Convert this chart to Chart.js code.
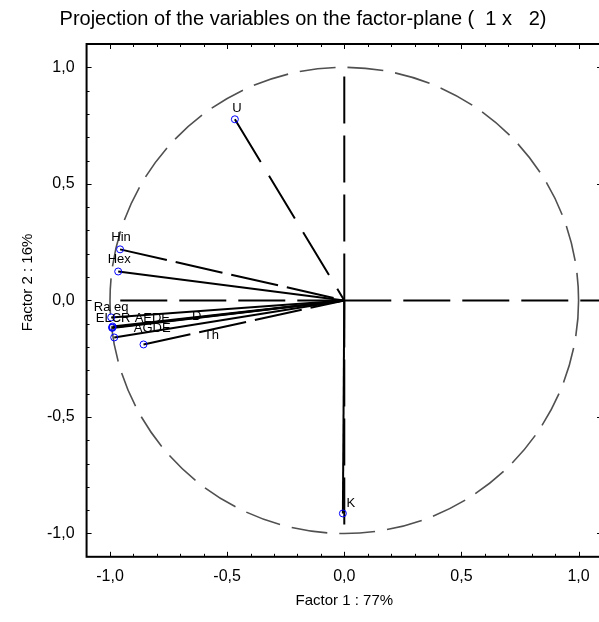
<!DOCTYPE html>
<html>
<head>
<meta charset="utf-8">
<script src="https://cdn.jsdelivr.net/npm/chart.js@4/dist/chart.umd.min.js"></script>
<style>
  html, body { margin: 0; padding: 0; background: #fff; overflow: hidden; }
  canvas { display: block; }
</style>
</head>
<body>
<canvas id="pcaChart" width="607" height="622"></canvas>
<script>
// Variables y coordenadas en el plano factorial
const varNames = ["U", "Hin", "Hex", "Ra eq", "ELCR", "AEDE", "D", "AGDE", "Th", "K"];
const factor1 = [-0.467, -0.957, -0.965, -0.995, -0.991, -0.990, -0.989, -0.982, -0.857, -0.006];
const factor2 = [0.777, 0.219, 0.124, -0.073, -0.116, -0.118, -0.112, -0.159, -0.189, -0.914];

// Ticks
const xTickValues = [-1, -0.5, 0, 0.5, 1];
const yTickValues = [-1, -0.5, 0, 0.5, 1];

const FONT = "'Liberation Sans', Arial, sans-serif";
const Y_TITLE = "Factor 2 : 16%";

// Trazo de cada vector (vacío = continuo)
const vectorDash = { "U": [50, 16], "Hin": [48, 9], "Th": [48, 9] };

// Desplazamiento de las etiquetas respecto al punto (px)
const labelOffset = {
  "U": [2, -11], "Hin": [1, -12], "Hex": [1, -12], "Ra eq": [0, -10],
  "ELCR": [1, -9], "AEDE": [40, -9], "D": [84, -10], "AGDE": [38, -9],
  "Th": [68, -9], "K": [8, -10]
};

function fmt(v) {
  return v.toFixed(1).replace(".", ",");
}

const points = varNames.map((n, i) => ({ x: factor1[i], y: factor2[i] }));

const datasets = [
  {
    type: "scatter",
    data: points,
    pointRadius: 3.5,
    pointBorderColor: "#0000ff",
    pointBackgroundColor: "rgba(0,0,0,0)",
    pointBorderWidth: 1
  }
];

varNames.forEach((n, i) => {
  datasets.push({
    type: "line",
    data: [{ x: factor1[i], y: factor2[i] }, { x: 0, y: 0 }],
    borderColor: "#000",
    borderWidth: 2,
    borderDash: vectorDash[n] || [],
    pointRadius: 0,
    fill: false
  });
});

const decorPlugin = {
  id: "decor",
  beforeDatasetsDraw(chart) {
    const { ctx } = chart;
    const xs = chart.scales.x, ys = chart.scales.y;
    const cx = xs.getPixelForValue(0), cy = ys.getPixelForValue(0);
    ctx.save();
    // círculo unidad
    ctx.strokeStyle = "#505050";
    ctx.lineWidth = 1.6;
    ctx.setLineDash([36, 12]);
    ctx.beginPath();
    ctx.ellipse(cx, cy, xs.getPixelForValue(1) - cx, cy - ys.getPixelForValue(1), 0, 0, Math.PI * 2);
    ctx.stroke();
    // ejes discontinuos
    ctx.strokeStyle = "#000";
    ctx.lineWidth = 2;
    ctx.setLineDash([47, 12]);
    ctx.beginPath();
    ctx.moveTo(cx, cy);
    ctx.lineTo(xs.getPixelForValue(1.1), cy);
    ctx.moveTo(cx, cy);
    ctx.lineTo(xs.getPixelForValue(-1), cy);
    ctx.moveTo(cx, cy);
    ctx.lineTo(cx, ys.getPixelForValue(1));
    ctx.moveTo(cx, cy);
    ctx.lineTo(cx, ys.getPixelForValue(-1));
    ctx.stroke();
    ctx.restore();
  },
  afterDatasetsDraw(chart) {
    const { ctx } = chart;
    const xs = chart.scales.x, ys = chart.scales.y;
    ctx.save();
    ctx.fillStyle = "#000";
    ctx.font = "13px " + FONT;
    ctx.textAlign = "center";
    ctx.textBaseline = "middle";
    varNames.forEach((n, i) => {
      const off = labelOffset[n] || [0, -10];
      ctx.fillText(n, xs.getPixelForValue(factor1[i]) + off[0], ys.getPixelForValue(factor2[i]) + off[1]);
    });
    ctx.restore();
  },
  afterDraw(chart) {
    const { ctx, chartArea: a } = chart;
    const xs = chart.scales.x, ys = chart.scales.y;
    ctx.save();
    ctx.strokeStyle = "#000";
    ctx.lineWidth = 2;
    ctx.strokeRect(a.left, a.top, a.right - a.left, a.bottom - a.top);
    ctx.lineWidth = 1;
    ctx.beginPath();
    for (let k = -10; k <= 10; k++) {
      const v = k / 10;
      const len = k % 5 === 0 ? 5 : 3;
      const px = Math.round(xs.getPixelForValue(v)) + 0.5;
      const py = Math.round(ys.getPixelForValue(v)) + 0.5;
      ctx.moveTo(px, a.bottom); ctx.lineTo(px, a.bottom - len);
      ctx.moveTo(px, a.top); ctx.lineTo(px, a.top + len);
      ctx.moveTo(a.left, py); ctx.lineTo(a.left + len, py);
      ctx.moveTo(a.right, py); ctx.lineTo(a.right - len, py);
    }
    ctx.stroke();
    // título del eje Y
    ctx.fillStyle = "#000";
    ctx.font = "15px " + FONT;
    ctx.textAlign = "center";
    ctx.textBaseline = "middle";
    ctx.translate(28, (a.top + a.bottom) / 2 - 18);
    ctx.rotate(-Math.PI / 2);
    ctx.fillText(Y_TITLE, 0, 0);
    ctx.restore();
  }
};

window.addEventListener("load", () => {
  const ctx = document.getElementById("pcaChart").getContext("2d");
  new Chart(ctx, {
    data: { datasets },
    options: {
      responsive: false,
      animation: false,
      layout: { padding: { left: 0, right: 1, top: 0, bottom: 12 } },
      plugins: {
        legend: { display: false },
        tooltip: { enabled: false },
        title: {
          display: true,
          text: "Projection of the variables on the factor-plane (  1 x   2)",
          color: "#000",
          font: { family: FONT, size: 20, weight: "normal" },
          padding: { top: 7, bottom: 13 }
        }
      },
      scales: {
        x: {
          type: "linear",
          min: -1.1,
          max: 1.1,
          afterBuildTicks: (s) => { s.ticks = xTickValues.map(v => ({ value: v })); },
          ticks: {
            color: "#000",
            font: { family: FONT, size: 16 },
            padding: 10,
            callback: (v) => fmt(v)
          },
          grid: { display: false, drawTicks: false },
          border: { display: false },
          title: {
            display: true,
            text: "Factor 1 : 77%",
            color: "#000",
            font: { family: FONT, size: 15 },
            padding: { top: -4, bottom: 0 }
          }
        },
        y: {
          type: "linear",
          min: -1.1,
          max: 1.1,
          afterBuildTicks: (s) => { s.ticks = yTickValues.map(v => ({ value: v })); },
          afterFit: (s) => { s.width += 35; },
          ticks: {
            color: "#000",
            font: { family: FONT, size: 16 },
            padding: 12,
            callback: (v) => fmt(v)
          },
          grid: { display: false, drawTicks: false },
          border: { display: false }
        }
      }
    },
    plugins: [decorPlugin]
  });
});
</script>
</body>
</html>
